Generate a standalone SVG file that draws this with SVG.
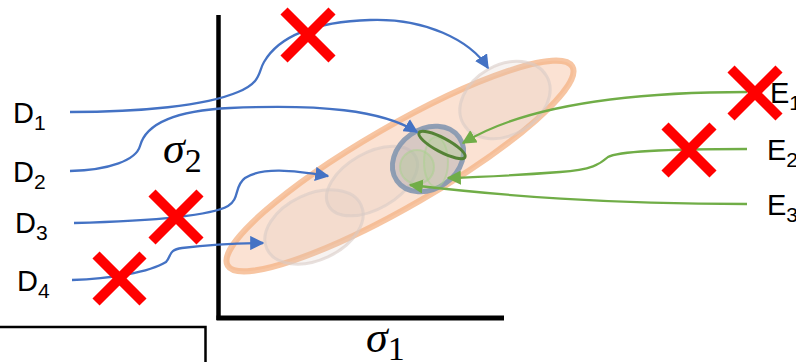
<svg xmlns="http://www.w3.org/2000/svg" width="796" height="362" viewBox="0 0 796 362">
<style>
.lbl{font-family:"Liberation Sans",Arial,sans-serif;font-size:29px;fill:#000}
.sub{font-size:21px}
.sig{font-family:"Liberation Serif","DejaVu Serif",serif;font-style:italic;font-size:44px;fill:#000}
.sigsub{font-family:"Liberation Serif","DejaVu Serif",serif;font-style:normal;font-size:34px}
.blue{fill:none;stroke:#4472C4;stroke-width:2.3;marker-end:url(#ab)}
.green{fill:none;stroke:#70AD47;stroke-width:2.3;marker-end:url(#ag)}
.x{stroke:#FF0000;stroke-width:10;stroke-linecap:butt}
.faint{fill:#D9C8C0;fill-opacity:0.22;stroke:#D8CCC6;stroke-opacity:0.6;stroke-width:3}
</style>
<defs>
<marker id="ab" viewBox="0 0 10 10" refX="9" refY="5" markerWidth="6.2" markerHeight="6.2" orient="auto"><path d="M0,0 L10,5 L0,10 z" fill="#4472C4"/></marker>
<marker id="ag" viewBox="0 0 10 10" refX="9" refY="5" markerWidth="6.2" markerHeight="6.2" orient="auto"><path d="M0,0 L10,5 L0,10 z" fill="#70AD47"/></marker>
</defs>

<g id="box"><path d="M0,327 H205.5 V362" fill="none" stroke="#000" stroke-width="2.5"/></g>

<g id="axes">
<line x1="218.5" y1="15" x2="218.5" y2="320" stroke="#000" stroke-width="4.5"/>
<line x1="216.5" y1="318" x2="504" y2="318" stroke="#000" stroke-width="5"/>
</g>

<g id="big-ellipse">
<ellipse cx="400" cy="166" rx="199" ry="40" transform="rotate(-30 400 166)" fill="#FBE2D3" stroke="#F4B183" stroke-opacity="0.75" stroke-width="6"/>
</g>
<g id="faint-ellipses">
<ellipse class="faint" cx="505" cy="100" rx="48" ry="35" transform="rotate(-30 505 100)"/>
<ellipse class="faint" cx="372" cy="181" rx="50" ry="28" transform="rotate(-30 372 181)"/>
<ellipse class="faint" cx="314" cy="227" rx="52" ry="33" transform="rotate(-25 314 227)"/>
</g>
<g id="mid-ellipse">
<ellipse cx="428" cy="159" rx="38" ry="30" transform="rotate(-35 428 159)" fill="#B4AEB4" fill-opacity="0.5" stroke="#8497B0" stroke-opacity="0.9" stroke-width="5"/>
<circle cx="417" cy="167" r="17" fill="#A9D18E" fill-opacity="0.3" stroke="#A9D18E" stroke-opacity="0.5" stroke-width="2"/>
<ellipse cx="436" cy="162" rx="12" ry="25" fill="#A9D18E" fill-opacity="0.15" stroke="#A9D18E" stroke-opacity="0.5" stroke-width="2"/>
<ellipse cx="442" cy="145" rx="26" ry="7" transform="rotate(28 442 145)" fill="#A9D18E" fill-opacity="0.35" stroke="#548235" stroke-width="3"/>
</g>

<g id="connectors">
<path class="blue" d="M70,112 C140,112 205,106 238,92 C262,82 258,72 264,62 C278,38 310,22 370,20 C425,18 470,40 488,68"/>
<path class="blue" d="M70,171 C110,170 136,160 140,146 C145,127 168,111 230,108 C320,104 382,110 417,132"/>
<path class="blue" d="M74,223 C150,221 210,216 228,206 C240,199 234,186 245,178 C262,167 292,170 328,176"/>
<path class="blue" d="M72,280 C110,279 150,272 166,262 C172,255 168,250 182,248 C205,245 235,243 263,243"/>
<path class="green" d="M747,92 C630,92 525,105 463,143"/>
<path class="green" d="M747,149 C685,149 618,151 608,157 C600,164 592,170 560,172 C520,175 485,177 448,178"/>
<path class="green" d="M747,204 C605,204 505,196 410,185"/>
</g>

<g id="labels">
<text class="lbl" x="13" y="123">D<tspan class="sub" dy="7">1</tspan></text>
<text class="lbl" x="13" y="182">D<tspan class="sub" dy="7">2</tspan></text>
<text class="lbl" x="15" y="233">D<tspan class="sub" dy="7">3</tspan></text>
<text class="lbl" x="17" y="291">D<tspan class="sub" dy="7">4</tspan></text>
<text class="lbl" x="770" y="103">E<tspan class="sub" dy="7">1</tspan></text>
<text class="lbl" x="767" y="160">E<tspan class="sub" dy="7">2</tspan></text>
<text class="lbl" x="767" y="215">E<tspan class="sub" dy="7">3</tspan></text>
<text class="sig" x="163" y="163">σ<tspan class="sigsub" dy="9">2</tspan></text>
<text class="sig" x="366" y="352">σ<tspan class="sigsub" dy="8">1</tspan></text>
</g>

<g id="crosses">
<path class="x" d="M284,11 L332,59 M332,11 L284,59"/>
<path class="x" d="M152,193 L200,241 M200,193 L152,241"/>
<path class="x" d="M96,255 L143,302 M143,255 L96,302"/>
<path class="x" d="M731,69 L779,117 M779,69 L731,117"/>
<path class="x" d="M665,126 L713,174 M713,126 L665,174"/>
</g>
</svg>
